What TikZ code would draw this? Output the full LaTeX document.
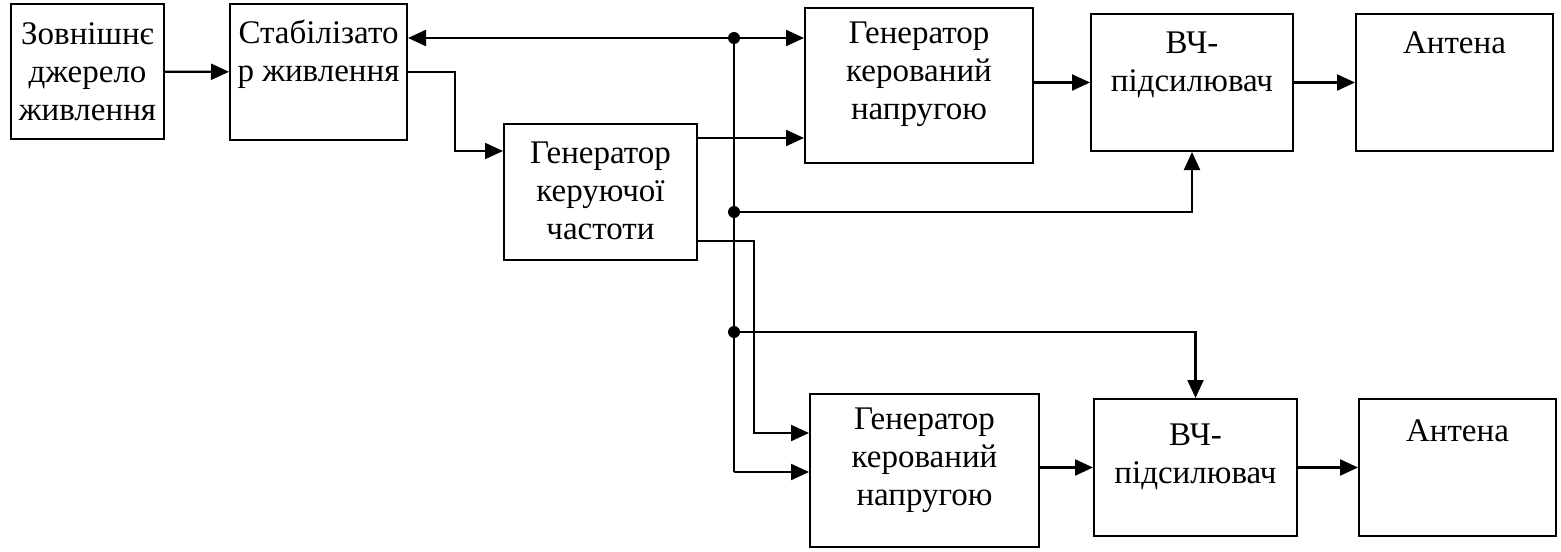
\documentclass[tikz,border=0pt]{standalone}
\usepackage{fontspec}
\setmainfont{Liberation Serif}
\usetikzlibrary{
    arrows.meta,
    calc
}
\tikzset {
    block/.style = {draw, line width = 1pt, anchor = north west, inner sep = 0pt,
        font = \fontsize{16.5}{19}\selectfont},
    line/.style = {line width = 1.1pt},
    arrowed line/.style = {line, ->},
    junction/.style = {circle, fill, inner sep = 0pt, minimum size = 6pt},
}
\newcommand{\blk}[4][20pt]{\parbox[c][#3][t]{#2}{\centering\rule{0pt}{#1}#4}}

\begin{document}
\begin{tikzpicture}[x = 0.5pt, y = -0.5pt, >={Triangle[length = 9pt, width = 8pt]}]
    \useasboundingbox (0, 0) rectangle (1561, 551);
    % blocks
    \node[block] (ext)  at (10, 3)     {\blk{76.5pt}{67.5pt}{Зовнішнє\\джерело\\живлення}};
    \node[block] (stab) at (229, 3)    {\blk{88.5pt}{68pt}{Стабілізато\\р живлення}};
    \node[block] (gku)  at (503, 123)  {\blk{96.5pt}{68pt}{Генератор\\керуючої\\частоти}};
    \node[block] (gkn1) at (804, 7)    {\blk[17.5pt]{114pt}{77.5pt}{Генератор\\керований\\напругою}};
    \node[block] (vch1) at (1090, 13)  {\blk{101pt}{68.5pt}{ВЧ-\\підсилювач}};
    \node[block] (ant1) at (1355, 13)  {\blk{98.5pt}{68.5pt}{Антена}};
    \node[block] (gkn2) at (809, 393)  {\blk[17.5pt]{114.5pt}{76.5pt}{Генератор\\керований\\напругою}};
    \node[block] (vch2) at (1093, 398) {\blk[23pt]{101.5pt}{68.5pt}{ВЧ-\\підсилювач}};
    \node[block] (ant2) at (1358, 398) {\blk[21pt]{98.5pt}{68.5pt}{Антена}};
    % junctions
    \node[junction] (j1) at (734, 38) {};
    \node[junction] (j2) at (734, 212) {};
    \node[junction] (j3) at (734, 332) {};
    \coordinate (k2) at (734, 472);
    % power
    \draw[arrowed line] (ext) -- (stab);
    \draw[line, <->] (stab.east |- j1) -- (gkn1.west |- j1);
    \draw[line] (j1) -- (k2);
    \draw[arrowed line] (k2) -- (k2 -| gkn2.west);
    \draw[arrowed line] (j2) -| (vch1.south);
    \draw[arrowed line] (j3) -| (vch2.north);
    \draw[arrowed line] (stab.east) -- ++(47, 0) |- ($(gku.north west) + (0, 28)$);
    % signal
    \draw[arrowed line] ($(gku.north east) + (0, 15)$) coordinate (g1) -- (g1 -| gkn1.west);
    \draw[arrowed line] ($(gku.south east) + (0, -20)$) -- ++(56, 0) |- ($(gkn2.north west) + (0, 40)$);
    \draw[arrowed line] (gkn1.east |- vch1.west) -- (vch1.west);
    \draw[arrowed line] (vch1) -- (ant1);
    \draw[arrowed line] (gkn2.east |- vch2.west) -- (vch2.west);
    \draw[arrowed line] (vch2) -- (ant2);
\end{tikzpicture}
\end{document}
